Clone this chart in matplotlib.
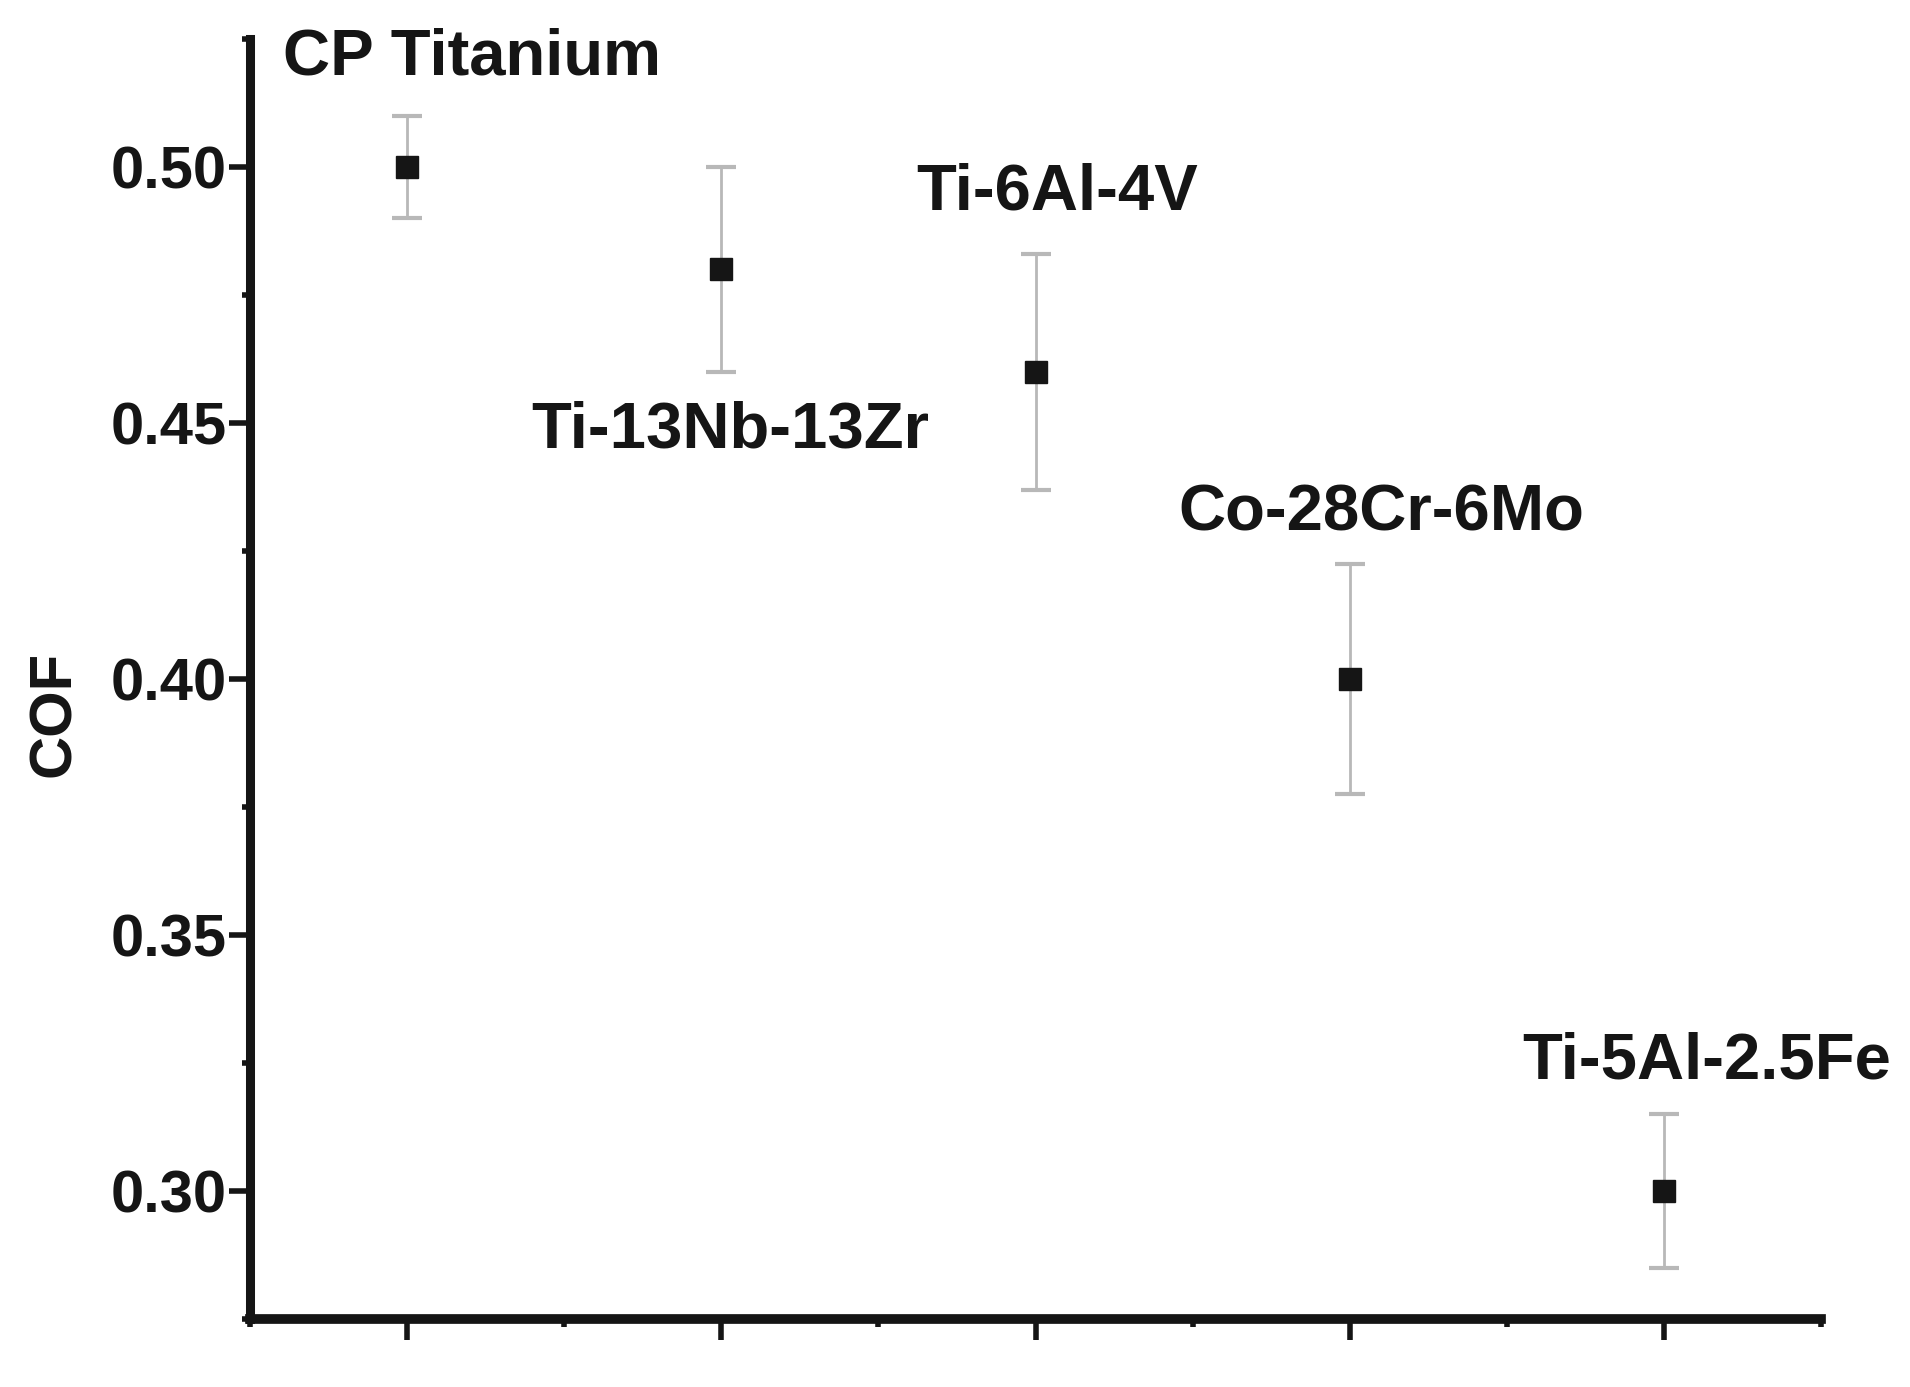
import matplotlib
matplotlib.use('Agg')
import matplotlib.pyplot as plt
from matplotlib.ticker import MultipleLocator, FormatStrFormatter

plt.rcParams['font.family'] = ['Liberation Sans', 'DejaVu Sans']
plt.rcParams['font.weight'] = 'bold'

# data
alloys = ['CP Titanium', 'Ti-13Nb-13Zr', 'Ti-6Al-4V', 'Co-28Cr-6Mo', 'Ti-5Al-2.5Fe']
positions = [1, 2, 3, 4, 5]
cof = [0.50, 0.48, 0.46, 0.40, 0.30]
cof_err = [0.010, 0.020, 0.023, 0.0224, 0.015]

# label anchors (left edge, vertical centre) in data coordinates
label_x = [0.605, 1.395, 2.62, 3.455, 4.55]
label_y = [0.5213, 0.4486, 0.495, 0.4323, 0.3253]

ink = '#151515'

fig = plt.figure(figsize=(19.10, 13.87), dpi=100)
ax = fig.add_axes([0.1309, 0.049, 0.8225, 0.9229])

ax.errorbar(positions, cof, yerr=cof_err, fmt='s', color=ink, markersize=16,
            ecolor='#b8b8b8', elinewidth=2, capsize=11, capthick=3, zorder=3)

for name, x, y in zip(alloys, label_x, label_y):
    ax.text(x, y, name, ha='left', va='center', fontsize=47, fontweight='bold', color=ink)

ax.set_xlim(0.5, 5.5)
ax.set_ylim(0.275, 0.525)

ax.xaxis.set_major_locator(MultipleLocator(1))
ax.xaxis.set_minor_locator(MultipleLocator(0.5))
ax.yaxis.set_major_locator(MultipleLocator(0.05))
ax.yaxis.set_minor_locator(MultipleLocator(0.025))
ax.yaxis.set_major_formatter(FormatStrFormatter('%.2f'))
ax.set_xticklabels([])

for side in ('top', 'right'):
    ax.spines[side].set_visible(False)
ax.spines['left'].set_linewidth(6.5)
ax.spines['bottom'].set_linewidth(7)
ax.spines['left'].set_color(ink)
ax.spines['bottom'].set_color(ink)
ax.spines['left'].set_capstyle('projecting')
ax.spines['bottom'].set_capstyle('projecting')

ax.tick_params(axis='both', which='major', length=15, width=4, color=ink)
ax.tick_params(axis='both', which='minor', length=6, width=4, color=ink)
ax.tick_params(axis='y', which='major', labelsize=43, pad=2, labelcolor=ink)
ax.tick_params(axis='x', which='both', labelbottom=False)
for lbl in ax.get_yticklabels():
    lbl.set_fontweight('bold')

ax.set_ylabel('COF', fontsize=43, fontweight='bold', color=ink)
ax.yaxis.set_label_coords(-0.107, 0.4727)

fig.savefig('out.png', dpi=100, facecolor='white')
